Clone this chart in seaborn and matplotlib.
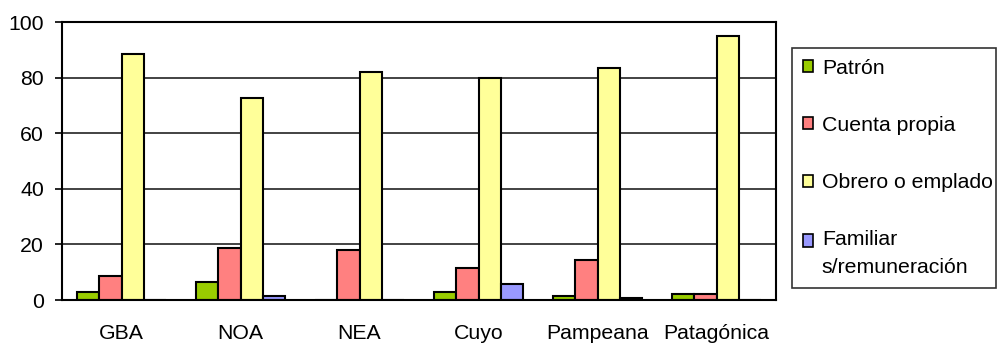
import matplotlib
matplotlib.use("Agg")
import matplotlib.pyplot as plt
import seaborn as sns
import pandas as pd
from matplotlib.patches import Patch, Rectangle
from matplotlib.legend_handler import HandlerPatch

regions = ["GBA", "NOA", "NEA", "Cuyo", "Pampeana", "Patagónica"]
series = ["Patrón", "Cuenta propia", "Obrero o emplado", "Familiar\ns/remuneración"]
patron = [2.8, 6.4, 0.0, 2.9, 1.5, 2.0]
cuenta_propia = [8.6, 18.7, 17.9, 11.5, 14.4, 2.0]
obrero = [88.5, 72.5, 82.0, 79.7, 83.3, 95.0]
familiar = [0.0, 1.4, 0.0, 5.6, 0.8, 0.0]
colors = ["#99CC00", "#FF8080", "#FFFF99", "#9999FF"]
yticks = [0, 20, 40, 60, 80, 100]

rows = []
for name, vals in zip(series, [patron, cuenta_propia, obrero, familiar]):
    for reg, v in zip(regions, vals):
        rows.append({"region": reg, "serie": name, "valor": v})
df = pd.DataFrame(rows)

sns.set_theme(style="white")
plt.rcParams["font.family"] = ["Liberation Sans", "DejaVu Sans"]
fs = 15.3

fig = plt.figure(figsize=(9.97, 3.43), dpi=100)
ax = fig.add_axes([62 / 997, 1 - 300 / 343, (776 - 62) / 997, (300 - 22) / 343])

sns.barplot(data=df, x="region", y="valor", hue="serie", order=regions,
            hue_order=series, palette=colors, width=0.75, dodge=True,
            edgecolor="black", linewidth=1.5, saturation=1, ax=ax, legend=False)

ax.set_ylim(0, 100)
ax.set_xlim(-0.5, len(regions) - 0.5)
ax.set_yticks(yticks)
ax.set_yticklabels([str(t) for t in yticks], fontsize=fs, color="black")
ax.set_xticks(range(len(regions)))
ax.set_xticklabels(regions, fontsize=fs, color="black")
ax.set_xticks([i - 0.5 for i in range(len(regions) + 1)], minor=True)
ax.tick_params(axis="x", which="major", length=0, pad=17)
ax.tick_params(axis="x", which="minor", length=5, width=1.2, color="black", direction="out")
ax.tick_params(axis="y", length=5, width=1.2, color="black", direction="out", left=True, pad=8)
ax.set_xlabel("")
ax.set_ylabel("")
ax.yaxis.grid(True, color="#222222", linewidth=1.2)
ax.set_axisbelow(True)
for s in ax.spines.values():
    s.set_visible(True)
    s.set_color("black")
    s.set_linewidth(1.5)


def top_line_square(legend, orig_handle, xdescent, ydescent, width, height, fontsize):
    # keep the key square beside the first line of a two-line label
    return Rectangle((-xdescent, -ydescent + 9.6), width, height)


handles = [Patch(facecolor=c, edgecolor="black", linewidth=1.2) for c in colors]
leg = fig.legend(handles, series, loc="upper left", mode="expand",
                 bbox_to_anchor=(792 / 997, 1 - 48 / 343, 204 / 997, 0.0),
                 fontsize=fs, frameon=True, fancybox=False,
                 handlelength=0.5, handleheight=0.5, handletextpad=0.4,
                 labelspacing=1.8, borderpad=0.5, borderaxespad=0,
                 handler_map={handles[3]: HandlerPatch(patch_func=top_line_square)})
for t in leg.get_texts():
    t.set_color("black")
    t.set_linespacing(1.6)
leg.get_frame().set_edgecolor("black")
leg.get_frame().set_linewidth(1.2)

fig.savefig("out.png", dpi=100)
